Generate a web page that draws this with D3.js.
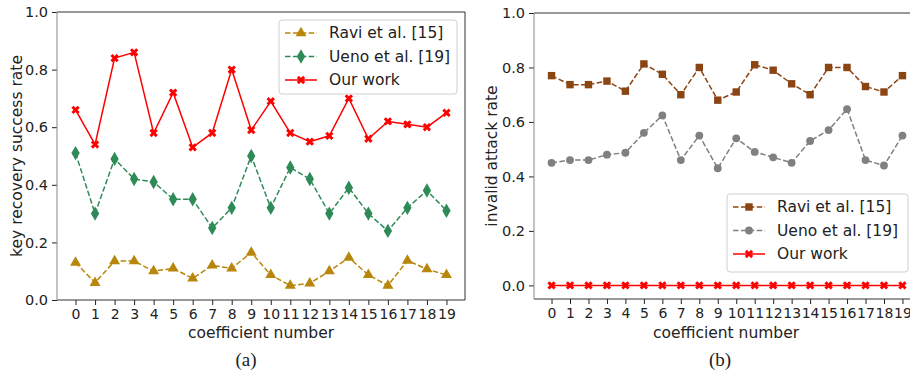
<!DOCTYPE html>
<html>
<head>
<meta charset="utf-8">
<script src="https://cdn.jsdelivr.net/npm/d3@7"></script>
<style>
  body { margin: 0; background: #fff; }
  text { font-family: "DejaVu Sans", sans-serif; fill: #222; }
</style>
</head>
<body>
<div id="chart"></div>
<script>
// data
var coeffs = d3.range(20);
var yTicks = [0, 0.2, 0.4, 0.6, 0.8, 1.0];

// (a) key recovery success rate
var raviA = [0.13, 0.06, 0.135, 0.135, 0.10, 0.11, 0.075, 0.12, 0.11, 0.165, 0.087, 0.05, 0.058, 0.10, 0.147, 0.087, 0.05, 0.137, 0.107, 0.087];
var uenoA = [0.51, 0.30, 0.49, 0.42, 0.41, 0.35, 0.35, 0.25, 0.32, 0.50, 0.32, 0.46, 0.42, 0.30, 0.39, 0.30, 0.24, 0.32, 0.38, 0.31];
var oursA = [0.66, 0.54, 0.84, 0.86, 0.58, 0.72, 0.53, 0.58, 0.80, 0.59, 0.69, 0.58, 0.55, 0.57, 0.70, 0.56, 0.62, 0.61, 0.60, 0.65];

// (b) invalid attack rate
var raviB = [0.77, 0.737, 0.737, 0.75, 0.713, 0.813, 0.775, 0.70, 0.80, 0.68, 0.71, 0.81, 0.79, 0.74, 0.70, 0.80, 0.80, 0.73, 0.71, 0.77];
var uenoB = [0.45, 0.46, 0.46, 0.48, 0.487, 0.56, 0.624, 0.46, 0.55, 0.43, 0.54, 0.49, 0.47, 0.45, 0.53, 0.57, 0.647, 0.46, 0.44, 0.55];
var oursB = [0, 0, 0, 0, 0, 0, 0, 0, 0, 0, 0, 0, 0, 0, 0, 0, 0, 0, 0, 0];

var svg = d3.select("#chart").append("svg")
  .attr("width", 910)
  .attr("height", 373);

// filled "X" marker like matplotlib
var symbolXFill = {
  draw: function(ctx, size) {
    var r = Math.sqrt(size) / 2, t = r * 0.5;
    var pts = [[-r, -r + t], [-r + t, -r], [0, -t], [r - t, -r], [r, -r + t], [t, 0],
               [r, r - t], [r - t, r], [0, t], [-r + t, r], [-r, r - t], [-t, 0]];
    ctx.moveTo(pts[0][0], pts[0][1]);
    for (var i = 1; i < pts.length; i++) ctx.lineTo(pts[i][0], pts[i][1]);
    ctx.closePath();
  }
};

function drawPanel(cfg) {
  var x = d3.scaleLinear().domain([-0.95, 19.95]).range([cfg.left, cfg.right]);
  var y = d3.scaleLinear().domain(cfg.yDomain).range([cfg.bottom, cfg.top]);
  var g = svg.append("g");

  // axes
  g.append("g")
    .attr("transform", "translate(0," + cfg.bottom + ")")
    .call(d3.axisBottom(x).tickValues(coeffs).tickFormat(d3.format("d")).tickSize(5).tickPadding(4))
    .call(function(a) {
      a.select(".domain").remove();
      a.selectAll("line").attr("stroke", "#222");
      a.selectAll("text").attr("font-size", 14).style("font-family", "DejaVu Sans");
    });
  g.append("g")
    .attr("transform", "translate(" + cfg.left + ",0)")
    .call(d3.axisLeft(y).tickValues(yTicks).tickFormat(d3.format(".1f")).tickSize(5).tickPadding(4))
    .call(function(a) {
      a.select(".domain").remove();
      a.selectAll("line").attr("stroke", "#222");
      a.selectAll("text").attr("font-size", 14.5).style("font-family", "DejaVu Sans");
    });

  // spines
  g.append("line").attr("x1", cfg.left).attr("x2", cfg.right).attr("y1", cfg.top).attr("y2", cfg.top).attr("stroke", "#333");
  g.append("line").attr("x1", cfg.left).attr("x2", cfg.right).attr("y1", cfg.bottom).attr("y2", cfg.bottom).attr("stroke", "#333");
  g.append("line").attr("x1", cfg.right).attr("x2", cfg.right).attr("y1", cfg.top).attr("y2", cfg.bottom).attr("stroke", "#333");
  g.append("line").attr("x1", cfg.left).attr("x2", cfg.left).attr("y1", cfg.top).attr("y2", cfg.bottom).attr("stroke", "#888");

  var line = d3.line().x(function(d, i) { return x(i); }).y(function(d) { return y(d); });

  cfg.series.forEach(function(s) {
    g.append("path")
      .datum(s.values)
      .attr("d", line)
      .attr("fill", "none")
      .attr("stroke", s.color)
      .attr("stroke-width", 1.5)
      .attr("stroke-dasharray", s.dashed ? "5.5,2.4" : null);
    g.selectAll(null)
      .data(s.values)
      .enter()
      .append("path")
      .attr("transform", function(d, i) { return "translate(" + x(i) + "," + y(d) + ")"; })
      .attr("d", d3.symbol().type(s.symbol).size(s.size))
      .attr("fill", s.color);
  });

  // legend
  var lg = g.append("g").attr("transform", "translate(" + cfg.legend.x + "," + cfg.legend.y + ")");
  lg.append("rect")
    .attr("width", cfg.legend.w).attr("height", cfg.legend.h)
    .attr("rx", 3)
    .attr("fill", "#fff").attr("fill-opacity", 0.8)
    .attr("stroke", "#d0d0d0");
  cfg.series.forEach(function(s, i) {
    var ly = 13 + i * 23.5;
    lg.append("line")
      .attr("x1", 6).attr("x2", 38).attr("y1", ly).attr("y2", ly)
      .attr("stroke", s.color).attr("stroke-width", 1.5)
      .attr("stroke-dasharray", s.dashed ? "5.5,2.4" : null);
    lg.append("path")
      .attr("transform", "translate(22," + ly + ")")
      .attr("d", d3.symbol().type(s.symbol).size(s.size))
      .attr("fill", s.color);
    lg.append("text")
      .attr("x", 50).attr("y", ly).attr("dy", "0.35em")
      .attr("font-size", 15.5)
      .text(s.name);
  });

  // axis titles
  g.append("text")
    .attr("x", cfg.xLabelX)
    .attr("y", 338)
    .attr("text-anchor", "middle")
    .attr("font-size", 15.5)
    .text("coefficient number");
  g.append("text")
    .attr("transform", "translate(" + cfg.yLabelX + "," + ((cfg.top + cfg.bottom) / 2) + ") rotate(-90)")
    .attr("text-anchor", "middle")
    .attr("font-size", 15.5)
    .text(cfg.yLabel);
  g.append("text")
    .attr("x", cfg.captionX).attr("y", 366)
    .attr("text-anchor", "middle")
    .attr("font-size", 19)
    .style("font-family", "Liberation Serif, serif")
    .text(cfg.caption);
}

drawPanel({
  left: 57, right: 465, top: 12, bottom: 300,
  yDomain: [0, 1],
  yLabel: "key recovery success rate", yLabelX: 22,
  xLabelX: 261, captionX: 246, caption: "(a)",
  legend: { x: 279, y: 20, w: 178, h: 74 },
  series: [
    { name: "Ravi et al. [15]", values: raviA, color: "#b8860b", dashed: true, symbol: d3.symbolTriangle, size: 52 },
    { name: "Ueno et al. [19]", values: uenoA, color: "#2e8b57", dashed: true, symbol: d3.symbolDiamond, size: 60 },
    { name: "Our work", values: oursA, color: "#ff0000", dashed: false, symbol: symbolXFill, size: 70 }
  ]
});

drawPanel({
  left: 534, right: 920, top: 13, bottom: 299,
  yDomain: [-0.05, 1.0],
  yLabel: "invalid attack rate", yLabelX: 497,
  xLabelX: 726, captionX: 720, caption: "(b)",
  legend: { x: 727, y: 194, w: 181, h: 78 },
  series: [
    { name: "Ravi et al. [15]", values: raviB, color: "#8b4513", dashed: true, symbol: d3.symbolSquare, size: 55 },
    { name: "Ueno et al. [19]", values: uenoB, color: "#808080", dashed: true, symbol: d3.symbolCircle, size: 48 },
    { name: "Our work", values: oursB, color: "#ff0000", dashed: false, symbol: symbolXFill, size: 70 }
  ]
});
</script>
</body>
</html>
